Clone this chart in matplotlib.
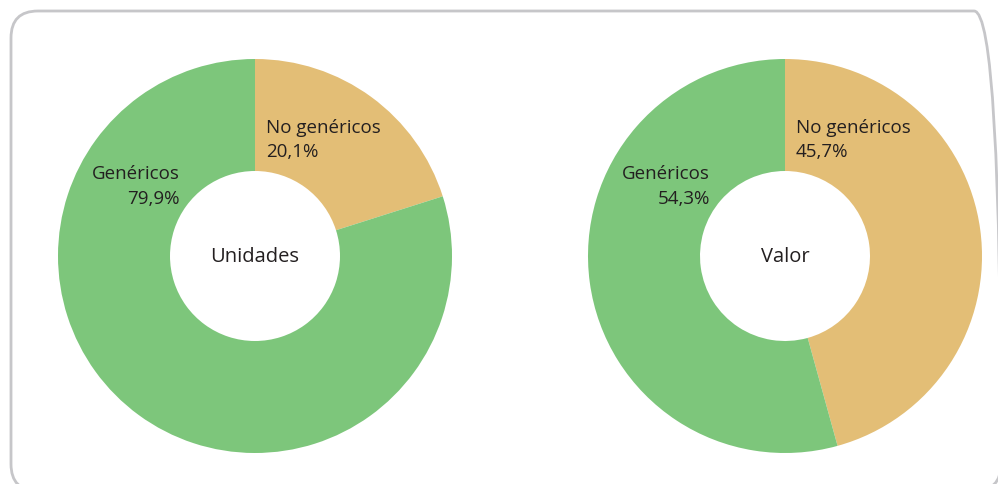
import matplotlib
matplotlib.use("Agg")
import matplotlib.pyplot as plt
from matplotlib.patches import FancyBboxPatch

categories = ["No genéricos", "Genéricos"]
unidades = [20.1, 79.9]
valor = [45.7, 54.3]
titles = ["Unidades", "Valor"]
colors = ["#e3be76", "#7dc67b"]

W, H = 998, 485
fig = plt.figure(figsize=(W / 100, H / 100), dpi=100)
ax = fig.add_axes([0, 0, 1, 1])

font = ["Open Sans", "DejaVu Sans"]
tc = "#231f20"

centers = [(255, H - 257), (785, H - 257)]
R_out, R_in = 197, 85
fs = 13.5

for (cx, cy), vals, title in zip(centers, [unidades, valor], titles):
    ax.pie(vals, colors=colors, startangle=90, counterclock=False,
           center=(cx, cy), radius=R_out,
           wedgeprops=dict(width=R_out - R_in, linewidth=0))
    ax.text(cx, cy, title, ha="center", va="center", fontsize=14.5,
            family=font, color=tc)
    ax.text(cx + 11, H - 128, f"{categories[0]}", ha="left", va="center",
            fontsize=fs, family=font, color=tc)
    ax.text(cx + 11, H - 152, f"{vals[0]:.1f}%".replace(".", ","), ha="left",
            va="center", fontsize=fs, family=font, color=tc)
    ax.text(cx - 75, H - 174, f"{categories[1]}", ha="right", va="center",
            fontsize=fs, family=font, color=tc)
    ax.text(cx - 75, H - 199, f"{vals[1]:.1f}%".replace(".", ","), ha="right",
            va="center", fontsize=fs, family=font, color=tc)

ax.set_xlim(0, W)
ax.set_ylim(0, H)
ax.set_aspect("auto")
ax.axis("off")

# rounded frame in figure pixel coordinates
left, right, top, bottom = 11, 1001, 12, 492
box = FancyBboxPatch((left / W, (H - bottom) / H), (right - left) / W, (bottom - top) / H,
                     boxstyle="round,pad=0,rounding_size=0.027",
                     transform=fig.transFigure, fill=False,
                     edgecolor="#c6c6c9", linewidth=2, mutation_aspect=W / H)
fig.patches.append(box)

fig.savefig("out.png", dpi=100)
